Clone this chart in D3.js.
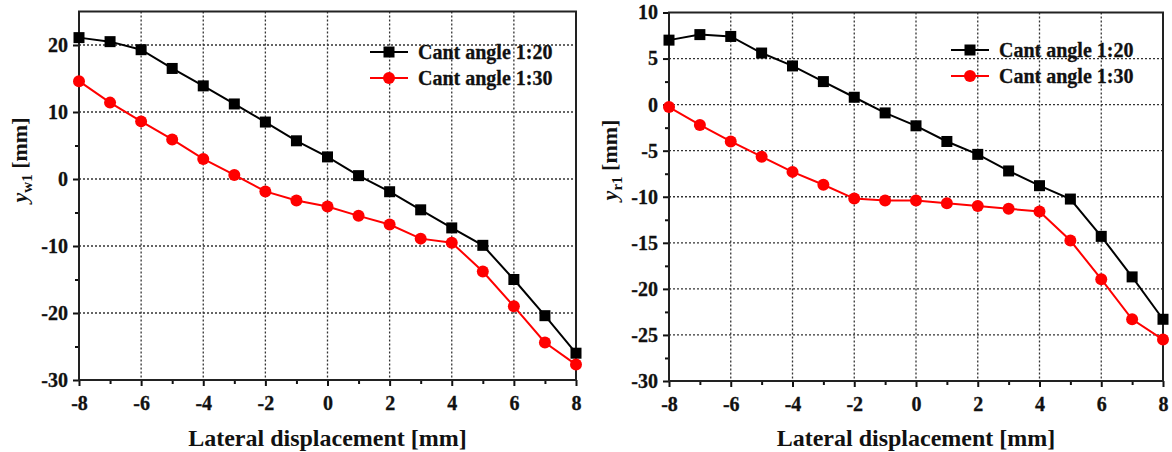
<!DOCTYPE html>
<html><head><meta charset="utf-8">
<script src="https://cdn.jsdelivr.net/npm/d3@7"></script>
<style>
body{margin:0;background:#fff;}
svg text{font-family:"Liberation Serif","Times New Roman",serif;font-weight:bold;fill:#111;}
</style></head><body>
<svg id="c" width="1172" height="452"></svg>
<script>
const xValues = [-8,-7,-6,-5,-4,-3,-2,-1,0,1,2,3,4,5,6,7,8];
const seriesNames = ["Cant angle 1:20","Cant angle 1:30"];
const yw1_20 = [21.1,20.5,19.3,16.5,13.9,11.2,8.5,5.7,3.3,0.5,-1.9,-4.6,-7.3,-9.9,-15.0,-20.4,-26.0];
const yw1_30 = [14.6,11.4,8.6,5.9,3.0,0.6,-1.85,-3.2,-4.1,-5.5,-6.8,-8.9,-9.5,-13.8,-19.0,-24.4,-27.7];
const yr1_20 = [7.0,7.6,7.4,5.6,4.2,2.5,0.8,-0.9,-2.3,-4.0,-5.4,-7.2,-8.8,-10.25,-14.3,-18.7,-23.3];
const yr1_30 = [-0.26,-2.2,-4.0,-5.65,-7.3,-8.7,-10.2,-10.4,-10.4,-10.7,-11.0,-11.3,-11.6,-14.75,-18.95,-23.3,-25.5];
const xTicks = [-8,-6,-4,-2,0,2,4,6,8];
const leftYTicks = [-30,-20,-10,0,10,20];
const rightYTicks = [-30,-25,-20,-15,-10,-5,0,5,10];
const xTitle = "Lateral displacement [mm]";

const svg = d3.select("#c");
const fmt = d => String(d);

function panel(o){
  const x = d3.scaleLinear().domain([-8,8]).range([o.x0,o.x1]);
  const y = d3.scaleLinear().domain(o.ydom).range([o.yb,o.yt]);
  const g = svg.append("g");
  const gx = xTicks.filter(v=>v>-8&&v<8);
  g.selectAll(".vg").data(gx).join("line")
    .attr("x1",d=>x(d)).attr("x2",d=>x(d)).attr("y1",o.yt).attr("y2",o.yb)
    .attr("stroke","#333").attr("stroke-width",1.3).attr("stroke-dasharray","2,2");
  const gy = o.yticks.filter(v=>v>o.ydom[0]&&v<o.ydom[1]);
  g.selectAll(".hg").data(gy).join("line")
    .attr("x1",o.x0).attr("x2",o.x1).attr("y1",d=>y(d)).attr("y2",d=>y(d))
    .attr("stroke","#333").attr("stroke-width",1.3).attr("stroke-dasharray","2,2");
  const xa = g.append("g").attr("transform",`translate(0,${o.yb})`)
    .call(d3.axisBottom(x).tickValues(xTicks).tickFormat(fmt).tickSize(6).tickPadding(5));
  const xm = g.append("g").attr("transform",`translate(0,${o.yb})`)
    .call(d3.axisBottom(x).tickValues(d3.range(-7,8,2)).tickFormat("").tickSize(4));
  const ya = g.append("g").attr("transform",`translate(${o.x0},0)`)
    .call(d3.axisLeft(y).tickValues(o.yticks).tickFormat(fmt).tickSize(6).tickPadding(5));
  const ym = g.append("g").attr("transform",`translate(${o.x0},0)`)
    .call(d3.axisLeft(y).tickValues(o.yminor).tickFormat("").tickSize(4));
  [xa,xm,ya,ym].forEach(a=>{
    a.select(".domain").remove();
    a.selectAll("line").attr("stroke","#111").attr("stroke-width",2);
    a.selectAll("text").attr("font-size",20).attr("fill","#111").attr("stroke","#111").attr("stroke-width",0.3);
  });
  xa.selectAll("text").attr("dy","0.95em");
  g.append("rect").attr("x",o.x0).attr("y",o.yt).attr("width",o.x1-o.x0).attr("height",o.yb-o.yt)
    .attr("fill","none").attr("stroke","#222").attr("stroke-width",2);
  const cols = ["#000","#ff0000"];
  const line = d3.line().x((d,i)=>x(xValues[i])).y(d=>y(d));
  o.series.forEach((s,k)=>{
    g.append("path").datum(s).attr("d",line).attr("fill","none").attr("stroke",cols[k]).attr("stroke-width",2);
    if(k===0){
      g.selectAll(".sq"+k).data(s).join("rect")
        .attr("x",(d,i)=>x(xValues[i])-5.5).attr("y",d=>y(d)-5.5).attr("width",11).attr("height",11).attr("fill",cols[k]);
    } else {
      g.selectAll(".ci"+k).data(s).join("circle")
        .attr("cx",(d,i)=>x(xValues[i])).attr("cy",d=>y(d)).attr("r",6).attr("fill",cols[k]);
    }
  });
  seriesNames.forEach((n,k)=>{
    const ly = o.ly + k*26;
    g.append("line").attr("x1",o.lx).attr("x2",o.lx+38).attr("y1",ly).attr("y2",ly).attr("stroke",cols[k]).attr("stroke-width",2);
    if(k===0) g.append("rect").attr("x",o.lx+19-5.5).attr("y",ly-5.5).attr("width",11).attr("height",11).attr("fill",cols[k]);
    else g.append("circle").attr("cx",o.lx+19).attr("cy",ly).attr("r",6).attr("fill",cols[k]);
    g.append("text").attr("x",o.lx+48).attr("y",ly).attr("dy","0.35em").attr("font-size",20)
      .attr("stroke","#111").attr("stroke-width",0.3).text(n);
  });
  g.append("text").attr("x",(o.x0+o.x1)/2).attr("y",446).attr("text-anchor","middle").attr("font-size",24).text(xTitle);
  const yt = g.append("text").attr("transform",`translate(${o.ytx},${o.yty}) rotate(-90)`).attr("text-anchor","middle").attr("font-size",22);
  yt.append("tspan").attr("font-style","italic").text("y");
  yt.append("tspan").attr("font-size",15).attr("dy",5).text(o.sub);
  yt.append("tspan").attr("dy",-5).text(" [mm]");
}

panel({x0:79,x1:576,yt:11.5,yb:380,ydom:[-30,25],yticks:leftYTicks,yminor:[-25,-15,-5,5,15],
  series:[yw1_20,yw1_30],lx:370,ly:52,sub:"w1",ytx:27,yty:160});
panel({x0:669,x1:1163,yt:12.5,yb:381,ydom:[-30,10],yticks:rightYTicks,yminor:d3.range(-27.5,10,5),
  series:[yr1_20,yr1_30],lx:951,ly:50,sub:"r1",ytx:617,yty:160});
</script></body></html>
